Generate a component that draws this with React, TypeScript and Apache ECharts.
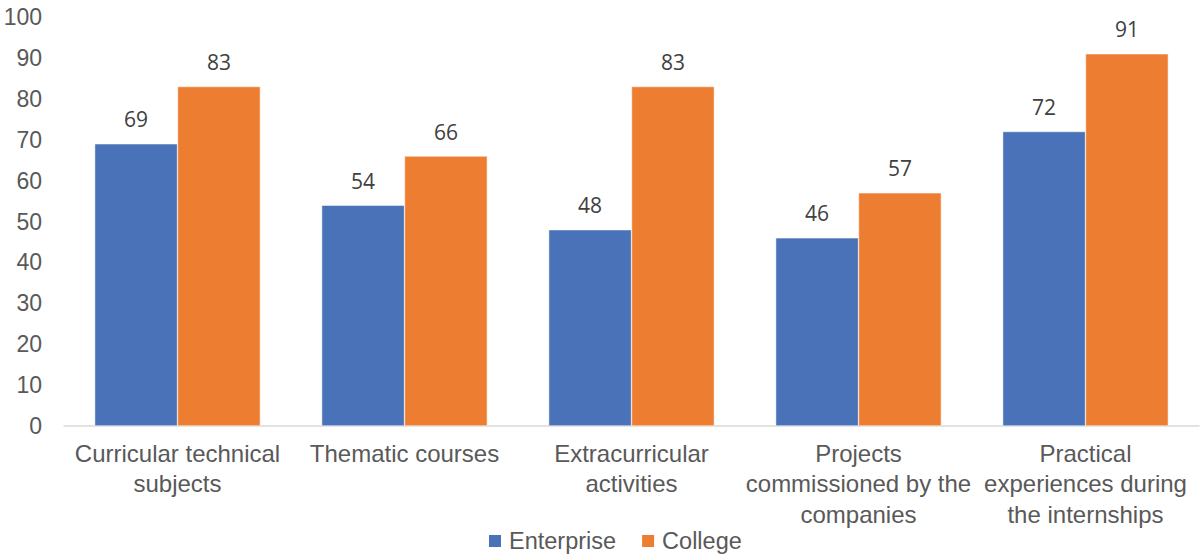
import React, { useEffect, useRef } from "react";
import * as echarts from "echarts";

const categories = [
  "Curricular technical subjects",
  "Thematic courses",
  "Extracurricular activities",
  "Projects commissioned by the companies",
  "Practical experiences during the internships",
];
const tickLabels = [
  "Curricular technical\nsubjects",
  "Thematic courses",
  "Extracurricular\nactivities",
  "Projects\ncommissioned by the\ncompanies",
  "Practical\nexperiences during\nthe internships",
];
const enterprise = [69, 54, 48, 46, 72];
const college = [83, 66, 83, 57, 91];
const yTicks = { min: 0, max: 100, interval: 10 };

export default function App() {
  const ref = useRef<HTMLDivElement>(null);
  useEffect(() => {
    if (!ref.current) return;
    const chart = echarts.init(ref.current, undefined, { renderer: "svg" });
    const font = "'Liberation Sans', Arial, sans-serif";
    const labelFont = "'Open Sans', sans-serif";
    chart.setOption({
      animation: false,
      grid: { left: 64, right: 2, top: 17, bottom: 128, containLabel: false },
      legend: {
        top: 524,
        left: 482,
        itemWidth: 14,
        itemHeight: 14,
        itemGap: 24,
        icon: "rect",
        textStyle: { fontFamily: font, fontSize: 23.5, color: "#595959", padding: [0, 0, 0, 2] },
        data: ["Enterprise", "College"],
      },
      xAxis: {
        type: "category",
        data: categories,
        axisLine: { lineStyle: { color: "#d9d9d9", width: 1.5 } },
        axisTick: { show: false },
        axisLabel: {
          fontFamily: font,
          fontSize: 24,
          color: "#595959",
          lineHeight: 30.5,
          margin: 12,
          interval: 0,
          formatter: (_v: string, i: number) => tickLabels[i],
        },
      },
      yAxis: {
        type: "value",
        min: yTicks.min,
        max: yTicks.max,
        interval: yTicks.interval,
        splitLine: { show: false },
        axisLine: { show: false },
        axisTick: { show: false },
        axisLabel: { fontFamily: font, fontSize: 23, color: "#595959", margin: 22 },
      },
      series: [
        {
          name: "Enterprise",
          type: "bar",
          data: enterprise,
          barGap: "0%",
          barCategoryGap: "27%",
          itemStyle: { color: "#4a72b8", borderColor: "#ffffff", borderWidth: 0.5 },
          label: { show: true, position: "top", distance: 14, fontFamily: labelFont, fontSize: 21, color: "#404040" },
        },
        {
          name: "College",
          type: "bar",
          data: college,
          barGap: "0%",
          barCategoryGap: "27%",
          itemStyle: { color: "#ed7d31", borderColor: "#ffffff", borderWidth: 0.5 },
          label: { show: true, position: "top", distance: 14, fontFamily: labelFont, fontSize: 21, color: "#404040" },
        },
      ],
    });
    return () => chart.dispose();
  }, []);
  return (
    <div
      ref={ref}
      style={{ position: "absolute", left: 0, top: 0, width: 1201, height: 554 }}
    />
  );
}
